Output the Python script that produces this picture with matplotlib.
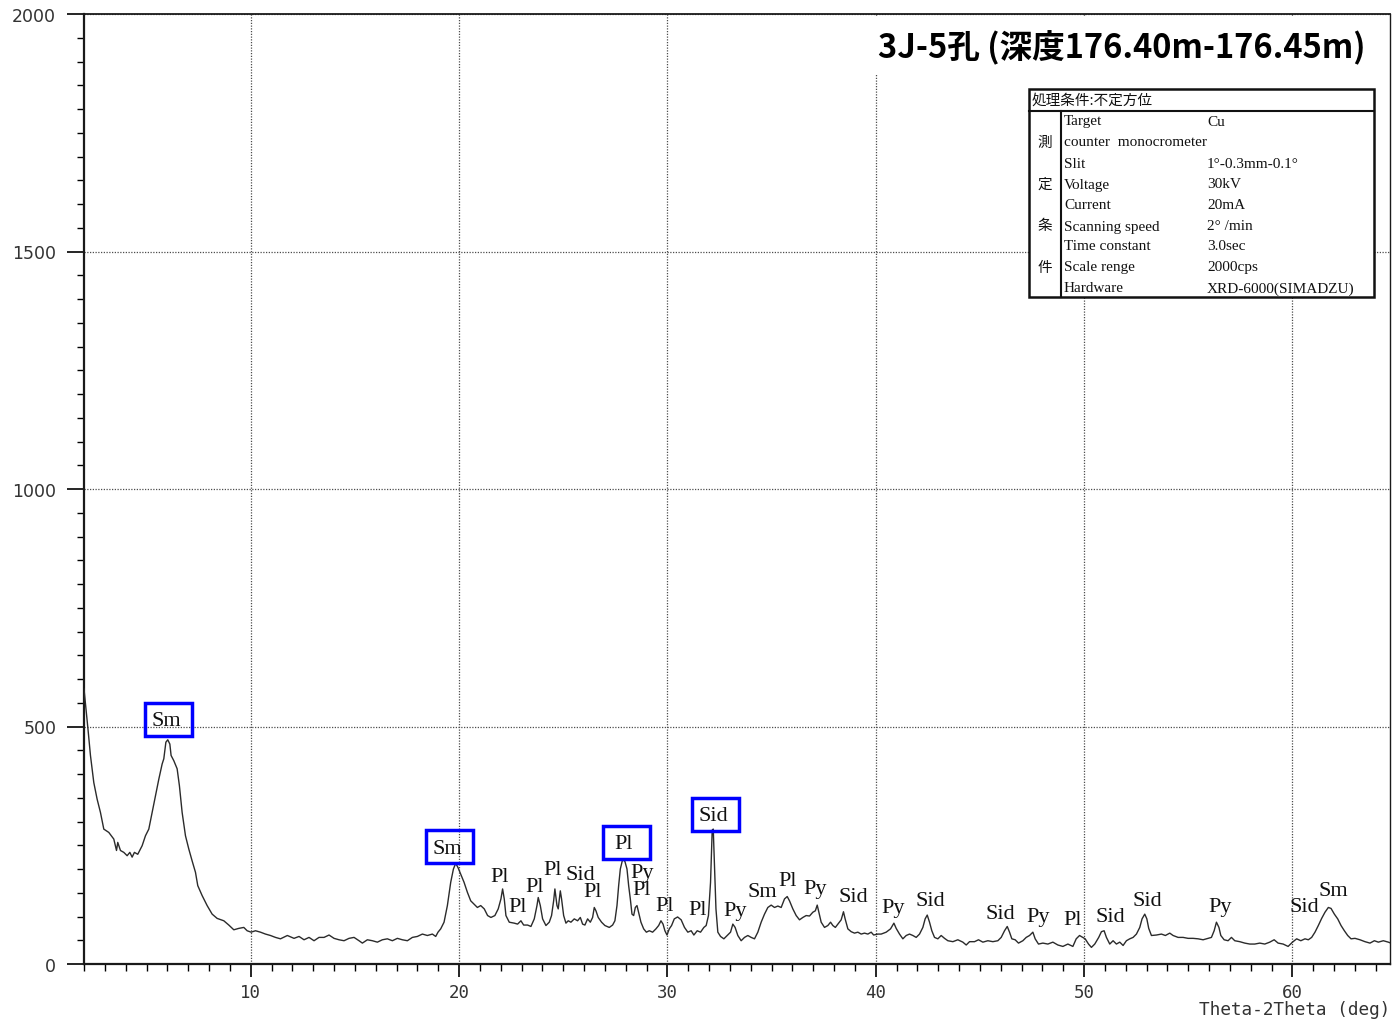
import matplotlib
matplotlib.use("Agg")
import matplotlib.pyplot as plt
from matplotlib.patches import Rectangle
from matplotlib.lines import Line2D
from matplotlib.transforms import ScaledTranslation
from matplotlib.ticker import MultipleLocator

plt.rcParams['font.family'] = ['DejaVu Sans']

# ---- XRD trace: 2-theta (deg) and intensity (cps) ----
two_theta = [
    2.0, 2.19, 2.31, 2.47, 2.63, 2.79, 2.95, 3.19, 3.43, 3.56,
    3.62, 3.75, 3.91, 4.07, 4.20, 4.31, 4.42, 4.58, 4.79, 4.95,
    5.11, 5.27, 5.43, 5.59, 5.75, 5.83, 5.93, 6.02, 6.12, 6.18,
    6.31, 6.47, 6.58, 6.71, 6.87, 7.03, 7.19, 7.35, 7.46, 7.67,
    7.91, 8.15, 8.39, 8.71, 8.95, 9.19, 9.43, 9.67, 9.83, 10.02,
    10.23, 10.47, 10.71, 10.95, 11.19, 11.43,
    11.76, 12.08, 12.32, 12.56, 12.80, 13.04, 13.28, 13.52, 13.76, 14.00,
    14.24, 14.48, 14.72, 14.96, 15.20, 15.36, 15.60, 15.84, 16.08, 16.32,
    16.56, 16.80, 17.04, 17.28, 17.52, 17.76, 18.00, 18.24, 18.48, 18.72,
    18.88, 18.99, 19.12, 19.28, 19.44, 19.60, 19.73, 19.84, 19.95, 20.08,
    20.24, 20.40, 20.56, 20.72, 20.88, 21.04,
    21.21, 21.37, 21.53, 21.72, 21.88, 22.01, 22.09, 22.17, 22.25, 22.41,
    22.65, 22.81, 22.97, 23.10, 23.29, 23.45, 23.61, 23.74, 23.80, 23.90,
    24.01, 24.17, 24.33, 24.44, 24.54, 24.60, 24.70, 24.76, 24.86, 24.92,
    25.02, 25.13, 25.24, 25.37, 25.53, 25.69, 25.82, 25.93, 26.04, 26.17,
    26.30, 26.41, 26.49, 26.57, 26.68, 26.84, 27.00, 27.21, 27.37, 27.48,
    27.58, 27.66, 27.74, 27.85, 27.96, 28.06, 28.14, 28.22, 28.30, 28.38,
    28.46, 28.54, 28.64, 28.73, 28.86, 28.99, 29.13, 29.29, 29.45, 29.58,
    29.69, 29.79, 29.88, 29.98, 30.09, 30.20, 30.33, 30.49,
    30.66, 30.82, 30.98, 31.14, 31.27, 31.43, 31.59, 31.75, 31.86, 31.97,
    32.07, 32.15, 32.20, 32.26, 32.33, 32.42, 32.55, 32.71, 32.87, 33.03,
    33.14, 33.25, 33.38, 33.54, 33.70, 33.86, 34.02, 34.18, 34.34, 34.50,
    34.66, 34.82, 34.98, 35.14, 35.30, 35.46, 35.62, 35.75, 35.86, 36.02,
    36.18, 36.34, 36.50, 36.66, 36.82, 36.98, 37.10, 37.19, 37.27, 37.38,
    37.54, 37.70, 37.83, 37.94, 38.06, 38.18, 38.34, 38.45, 38.53, 38.66,
    38.82, 38.98, 39.14, 39.30, 39.46, 39.62, 39.78, 39.90, 40.10,
    40.26, 40.50, 40.71, 40.87, 40.98, 41.14, 41.30, 41.46, 41.62, 41.78,
    41.94, 42.10, 42.26, 42.37, 42.47, 42.58, 42.69, 42.82, 42.98, 43.14,
    43.30, 43.46, 43.70, 43.94, 44.18, 44.34, 44.50, 44.74, 44.93, 45.14,
    45.38, 45.62, 45.86, 46.02, 46.18, 46.31, 46.42, 46.53, 46.69, 46.85,
    47.06, 47.22, 47.38, 47.54, 47.65, 47.81, 48.02, 48.26, 48.50, 48.74,
    48.98, 49.22, 49.46, 49.62, 49.78, 49.94, 50.05, 50.21,
    50.35, 50.51, 50.70, 50.83, 50.96, 51.07, 51.23, 51.39, 51.55, 51.71,
    51.87, 52.03, 52.19, 52.35, 52.51, 52.67, 52.78, 52.91, 53.01, 53.10,
    53.23, 53.47, 53.71, 53.90, 54.11, 54.27, 54.51, 54.75, 54.99, 55.23,
    55.47, 55.71, 55.95, 56.11, 56.24, 56.35, 56.47, 56.56, 56.72, 56.91,
    57.07, 57.23, 57.47, 57.71, 57.95, 58.19, 58.43, 58.67, 58.91, 59.12,
    59.31, 59.55, 59.79, 60.00, 60.20, 60.40, 60.60, 60.76, 60.92, 61.08,
    61.24, 61.40, 61.56, 61.72, 61.85, 62.01, 62.17, 62.33, 62.49, 62.65,
    62.81, 63.00, 63.24, 63.48, 63.72, 63.93, 64.12, 64.36, 64.60, 64.84,
]
intensity = [
    579, 495, 439, 382, 347, 319, 284, 277, 263, 239,
    256, 239, 235, 228, 235, 225, 235, 231, 249, 270,
    284, 319, 354, 389, 421, 432, 467, 472, 463, 439,
    428, 411, 375, 319, 270, 242, 217, 193, 165, 144,
    123, 105, 96, 91, 82, 72, 75, 77, 70, 67,
    70, 67, 63, 60, 56, 53,
    60, 54, 58, 51, 56, 49, 56, 56, 61, 54,
    51, 49, 54, 56, 49, 44, 51, 49, 46, 51,
    53, 49, 54, 51, 49, 56, 58, 63, 60, 63,
    58, 67, 74, 88, 123, 172, 200, 212, 203, 189,
    172, 151, 133, 126, 119, 123,
    116, 102, 98, 102, 116, 137, 158, 137, 102, 88,
    86, 84, 91, 82, 82, 79, 95, 123, 140, 123,
    95, 81, 88, 102, 133, 158, 123, 116, 154, 137,
    102, 86, 91, 88, 95, 91, 98, 84, 82, 95,
    88, 98, 119, 112, 98, 88, 81, 77, 82, 91,
    123, 165, 200, 220, 216, 200, 165, 137, 105, 102,
    119, 123, 105, 88, 74, 67, 70, 67, 74, 81,
    91, 84, 70, 61, 74, 81, 95, 99,
    93, 77, 67, 70, 61, 70, 67, 77, 81, 102,
    172, 282, 284, 207, 116, 67, 58, 53, 60, 67,
    84, 77, 60, 49, 56, 60, 56, 53, 67, 88,
    105, 119, 124, 119, 122, 119, 137, 142, 133, 116,
    102, 93, 98, 102, 101, 109, 112, 124, 109, 88,
    77, 81, 88, 81, 77, 84, 93, 110, 95, 74,
    68, 65, 67, 63, 65, 63, 67, 61, 63,
    63, 67, 74, 86, 75, 63, 53, 60, 63, 60,
    56, 63, 77, 95, 103, 88, 70, 56, 53, 60,
    54, 49, 47, 51, 46, 40, 47, 47, 51, 46,
    49, 47, 49, 56, 70, 79, 67, 53, 51, 44,
    49, 56, 60, 67, 53, 42, 44, 42, 46, 40,
    37, 42, 37, 53, 60, 56, 53, 42,
    35, 42, 56, 68, 70, 56, 42, 49, 42, 46,
    39, 49, 53, 56, 63, 77, 95, 105, 95, 75,
    60, 61, 63, 60, 65, 60, 56, 56, 54, 54,
    53, 51, 54, 56, 70, 88, 77, 60, 51, 49,
    56, 49, 47, 44, 42, 42, 44, 42, 46, 51,
    44, 42, 37, 46, 53, 49, 53, 51, 56, 67,
    81, 96, 109, 119, 117, 105, 95, 81, 70, 60,
    53, 54, 51, 47, 44, 49, 46, 49, 46, 42,
]

# ---- mineral identifications (Sm smectite, Pl plagioclase, Py pyrite, Sid siderite) ----
peak_names = ["Sm", "Sm", "Pl", "Pl", "Pl", "Pl", "Sid", "Pl", "Pl", "Py",
              "Pl", "Pl", "Pl", "Sid", "Py", "Sm", "Pl", "Py", "Sid", "Py",
              "Sid", "Sid", "Py", "Pl", "Sid", "Sid", "Py", "Sid", "Sm"]
peak_x = [5.95, 19.43, 21.97, 22.79, 23.65, 24.47, 25.81, 26.43, 27.92, 28.78,
          28.78, 29.89, 31.43, 32.19, 33.25, 34.54, 35.79, 37.08, 38.90, 40.82,
          42.60, 45.96, 47.78, 49.46, 51.28, 53.01, 56.52, 60.55, 61.94]
peak_y = [512, 244, 185, 122, 164, 198, 189, 152, 253, 192,
          156, 124, 114, 312, 112, 152, 175, 158, 143, 118,
          133, 107, 99, 93, 99, 133, 120, 120, 154]
peak_boxed = [True, True, False, False, False, False, False, False, True, False,
              False, False, False, True, False, False, False, False, False, False,
              False, False, False, False, False, False, False, False, False]

title_text = "3J-5孔 (深度176.40m-176.45m)"
cond_header = "処理条件:不定方位"
cond_side = ["測", "定", "条", "件"]
cond_names = ["Target", "counter  monocrometer", "Slit", "Voltage", "Current",
              "Scanning speed", "Time constant", "Scale renge", "Hardware"]
cond_values = ["Cu", "", "1°-0.3mm-0.1°", "30kV", "20mA",
               "2° /min", "3.0sec", "2000cps", "XRD-6000(SIMADZU)"]

W, H = 1392, 1020
fig = plt.figure(figsize=(W / 100, H / 100), dpi=100)


def fx(px):
    return px / W


def fy(py):
    return 1 - py / H


ax = fig.add_axes([fx(84), fy(965), fx(1390) - fx(84), fy(15) - fy(965)])
ax.plot(two_theta, intensity, color='#2b2b2b', lw=1.0, zorder=3)
ax.set_xlim(2, 64.68)
ax.set_ylim(0, 2000)

ax.xaxis.set_major_locator(MultipleLocator(10))
ax.xaxis.set_minor_locator(MultipleLocator(1))
ax.yaxis.set_major_locator(MultipleLocator(500))
ax.yaxis.set_minor_locator(MultipleLocator(50))
ax.set_axisbelow(True)
ax.grid(True, which='major', color='#4d4d4d', lw=0.9, ls=(0, (1, 1.2)))

ax.tick_params(axis='x', which='major', direction='out', length=9, width=1.2,
               pad=5, labelsize=12.5, labelcolor='#333333',
               labelfontfamily='DejaVu Sans Mono')
ax.tick_params(axis='x', which='minor', direction='out', length=5, width=1.0)
ax.tick_params(axis='y', which='major', direction='out', length=12, width=1.2,
               pad=8, labelsize=12.5, labelcolor='#333333')
ax.tick_params(axis='y', which='minor', direction='out', length=5, width=1.0)

for side, lw in (("left", 1.6), ("bottom", 1.6), ("top", 1.3), ("right", 1.0)):
    ax.spines[side].set_linewidth(lw)
    ax.spines[side].set_color('#1a1a1a')

fig.text(fx(1390), fy(1010), "Theta-2Theta (deg)", ha='right', va='center',
         fontsize=12.8, family='DejaVu Sans Mono', color='#333333')

# peak labels, with the main reflections boxed
for name, x, y, boxed in zip(peak_names, peak_x, peak_y, peak_boxed):
    ax.text(x, y, name, ha='center', va='center', fontsize=16,
            family='Liberation Serif', color='#111111', zorder=6)
    if boxed:
        off = ScaledTranslation(x, y, ax.transData)
        ax.add_patch(Rectangle((-0.215, -0.15), 0.47, 0.33,
                               transform=fig.dpi_scale_trans + off,
                               fill=False, ec='#0000ff', lw=2.5,
                               clip_on=False, zorder=7))

# blank bands behind the heading and above the conditions table
ax.add_patch(Rectangle((fx(862), fy(76)), fx(1388) - fx(862), fy(17) - fy(76),
                       transform=fig.transFigure, fc='white', ec='none',
                       clip_on=False, zorder=2))
ax.add_patch(Rectangle((fx(1000), fy(92)), fx(1388) - fx(1000), fy(74) - fy(92),
                       transform=fig.transFigure, fc='white', ec='none',
                       clip_on=False, zorder=2))
ax.text(fx(1122), fy(48), title_text, transform=fig.transFigure,
        ha='center', va='center', fontsize=23.5, fontweight='bold',
        family=['Noto Sans CJK JP', 'DejaVu Sans'], color='black', zorder=8)

# measurement conditions table
tx0, tx1, ty0, ty1 = 1029, 1374, 90, 298
ax.add_patch(Rectangle((fx(tx0), fy(ty1)), fx(tx1) - fx(tx0), fy(ty0) - fy(ty1),
                       transform=fig.transFigure, fc='white', ec='#111111',
                       lw=1.8, clip_on=False, zorder=4))
ax.add_line(Line2D([fx(tx0), fx(tx1)], [fy(112), fy(112)],
                   transform=fig.transFigure, color='#111111', lw=1.5, zorder=5))
ax.add_line(Line2D([fx(1061), fx(1061)], [fy(112), fy(ty1)],
                   transform=fig.transFigure, color='#111111', lw=1.5, zorder=5))
ax.text(fx(1032), fy(101), cond_header, transform=fig.transFigure,
        ha='left', va='center', fontsize=10.5,
        family=['Noto Sans CJK JP', 'DejaVu Sans'], color='#111111', zorder=6)
for ch, py in zip(cond_side, [143, 185, 226, 268]):
    ax.text(fx(1045), fy(py), ch, transform=fig.transFigure, ha='center',
            va='center', fontsize=10.5,
            family=['Noto Sans CJK JP', 'DejaVu Sans'], color='#111111', zorder=6)
row_y = [122, 143, 164, 185, 206, 227, 247, 268, 289]
for name, val, py in zip(cond_names, cond_values, row_y):
    ax.text(fx(1064), fy(py), name, transform=fig.transFigure, ha='left',
            va='center', fontsize=11, family='Liberation Serif',
            color='#111111', zorder=6)
    if val:
        ax.text(fx(1207), fy(py), val, transform=fig.transFigure, ha='left',
                va='center', fontsize=11, family='Liberation Serif',
                color='#111111', zorder=6)

fig.savefig("out.png", dpi=100, facecolor='white')
